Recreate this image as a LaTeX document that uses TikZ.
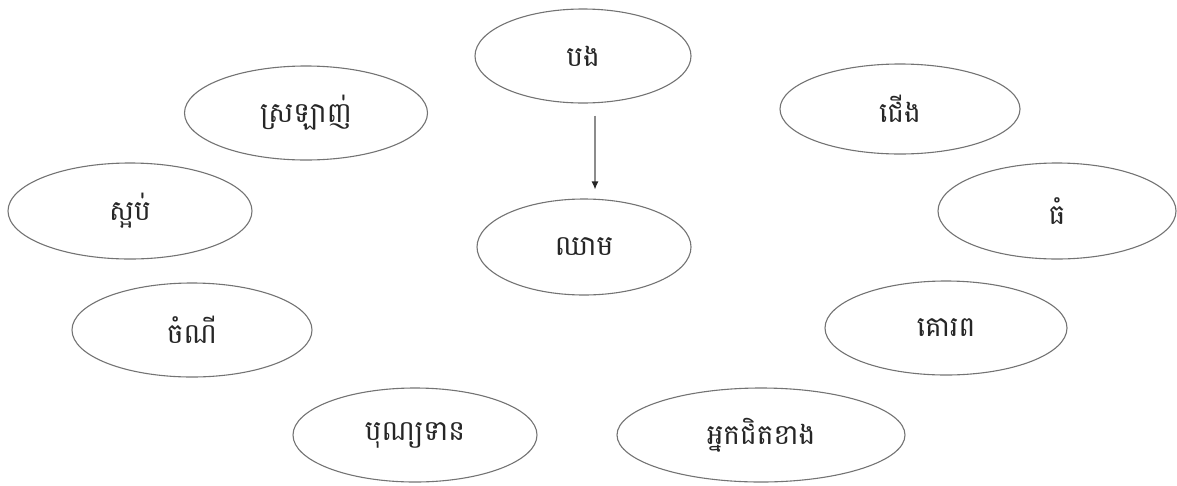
\documentclass[tikz,border=0pt]{standalone}
\usepackage{fontspec}
\newfontfamily\khmer[Script=Khmer]{Battambang}
\usetikzlibrary{shapes.geometric,arrows.meta}
\begin{document}
\begin{tikzpicture}[x=1pt,y=-1pt,
  concept/.style={ellipse,draw=black!55,line width=1.1pt,inner sep=0pt,font=\khmer\fontsize{28}{32}\selectfont,text=black!85},
  link/.style={draw=black!45,line width=1.2pt,-{Latex[length=8pt,width=7pt,black!85]}}]
\useasboundingbox (0,0) rectangle (1177,485);
\node[concept,minimum width=216pt,minimum height=94pt] (bong) at (583,56) {បង};
\node[concept,minimum width=243pt,minimum height=94pt] (love) at (306,113) {ស្រឡាញ់};
\node[concept,minimum width=240pt,minimum height=90pt] (leg) at (900,109) {ជើង};
\node[concept,minimum width=244pt,minimum height=96pt] (hate) at (130,211) {ស្អប់};
\node[concept,minimum width=214pt,minimum height=96pt] (blood) at (584,247) {ឈាម};
\node[concept,minimum width=238pt,minimum height=96pt] (big) at (1057,211) {ធំ};
\node[concept,minimum width=240pt,minimum height=94pt] (food) at (192,330) {ចំណី};
\node[concept,minimum width=242pt,minimum height=94pt] (respect) at (946,328) {គោរព};
\node[concept,minimum width=244pt,minimum height=94pt] (merit) at (415,435) {បុណ្យទាន};
\node[concept,minimum width=288pt,minimum height=94pt] (neighbor) at (761,435) {អ្នកជិតខាង};
\coordinate (a1) at ([xshift=12pt,yshift=-12pt]bong.south);
\coordinate (a2) at ([xshift=11pt,yshift=9pt]blood.north);
\draw[link] (a1) -- (a2);
\end{tikzpicture}
\end{document}
